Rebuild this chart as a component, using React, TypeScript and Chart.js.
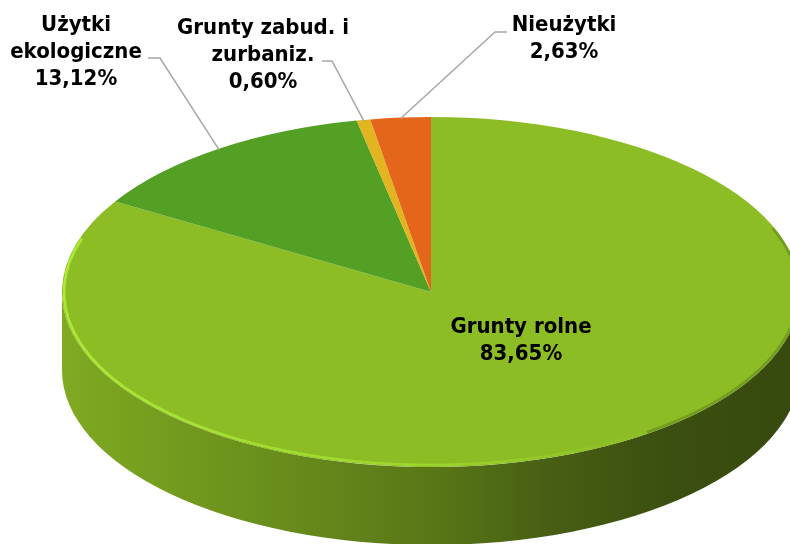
import React, { useEffect, useRef } from "react";
import { Chart, registerables } from "chart.js";

Chart.register(...registerables);

// ---- data ----
const categories = ["Grunty rolne", "Użytki ekologiczne", "Grunty zabud. i zurbaniz.", "Nieużytki"];
const values = [83.65, 13.12, 0.6, 2.63];
const labelLines = [["Grunty rolne"], ["Użytki", "ekologiczne"], ["Grunty zabud. i", "zurbaniz."], ["Nieużytki"]];

// ---- style / layout ----
const colors = ["#8dbd25", "#53a025", "#e2b41f", "#e3661b"];
const CX = 431;
const CY = 292;
const RX = 369;
const RY = 175;
const DEPTH = 78;
const FONT = "bold 22px 'DejaVu Sans Condensed', 'DejaVu Sans', sans-serif";
const LINE_H = 27;
// label boxes: centre x, first line centre y, leader start / elbow (null = inside)
const labelPos = [
  { x: 521, y: 327, lead: null as null | number[][] },
  { x: 76, y: 25, lead: [[148, 58], [160, 58]] },
  { x: 263, y: 28, lead: [[322, 61], [332, 61]] },
  { x: 564, y: 25, lead: [[507, 32], [495, 32]] },
];

function shade(hex: string, f: number) {
  const n = parseInt(hex.slice(1), 16);
  const r = Math.round(((n >> 16) & 255) * f);
  const g = Math.round(((n >> 8) & 255) * f);
  const b = Math.round((n & 255) * f);
  return `rgb(${r},${g},${b})`;
}

function fmt(v: number) {
  return v.toFixed(2).replace(".", ",") + "%";
}

const pie3d = {
  id: "pie3d",
  beforeDatasetsDraw(chart: any) {
    const ctx: CanvasRenderingContext2D = chart.ctx;
    const meta = chart.getDatasetMeta(0);
    // side walls (front half only)
    meta.data.forEach((arc: any, i: number) => {
      const { startAngle, endAngle } = arc.getProps(["startAngle", "endAngle"], true);
      for (let k = -1; k <= 1; k++) {
        const base = 2 * Math.PI * k;
        const lo = Math.max(startAngle, base);
        const hi = Math.min(endAngle, base + Math.PI);
        if (hi > lo) {
          ctx.save();
          ctx.beginPath();
          ctx.ellipse(CX, CY, RX, RY, 0, lo - base, hi - base);
          ctx.ellipse(CX, CY + DEPTH, RX, RY, 0, hi - base, lo - base, true);
          ctx.closePath();
          const g = ctx.createLinearGradient(CX - RX, 0, CX + RX, 0);
          const c = colors[i];
          g.addColorStop(0, shade(c, 0.9));
          g.addColorStop(0.32, shade(c, 0.73));
          g.addColorStop(0.5, shade(c, 0.63));
          g.addColorStop(0.66, shade(c, 0.5));
          g.addColorStop(0.82, shade(c, 0.42));
          g.addColorStop(1, shade(c, 0.39));
          ctx.fillStyle = g;
          ctx.fill();
          ctx.restore();
        }
      }
    });
    const a0 = meta.data[0];
    ctx.save();
    ctx.translate(CX, CY);
    ctx.scale(RX / a0.outerRadius, RY / a0.outerRadius);
    ctx.translate(-a0.x, -a0.y);
  },
  afterDatasetsDraw(chart: any) {
    const ctx: CanvasRenderingContext2D = chart.ctx;
    ctx.restore();
    const meta = chart.getDatasetMeta(0);

    // rim highlight on the front edge
    ctx.save();
    const hg = ctx.createLinearGradient(CX - RX, 0, CX + RX * 0.6, 0);
    hg.addColorStop(0, "rgba(172,235,52,1)");
    hg.addColorStop(0.6, "rgba(165,225,48,0.7)");
    hg.addColorStop(1, "rgba(160,220,45,0)");
    ctx.strokeStyle = hg;
    ctx.lineWidth = 2.5;
    ctx.beginPath();
    ctx.ellipse(CX, CY, RX - 2, RY - 2, 0, 0.25 * Math.PI, 1.1 * Math.PI);
    ctx.stroke();
    // soft dark bevel on the right edge
    ctx.strokeStyle = "rgba(45,65,10,0.25)";
    ctx.lineWidth = 3;
    ctx.beginPath();
    ctx.ellipse(CX, CY, RX - 1.5, RY - 1.5, 0, -0.12 * Math.PI, 0.3 * Math.PI);
    ctx.stroke();
    ctx.restore();

    // labels
    ctx.save();
    ctx.font = FONT;
    ctx.textAlign = "center";
    ctx.textBaseline = "middle";
    meta.data.forEach((arc: any, i: number) => {
      const { startAngle, endAngle } = arc.getProps(["startAngle", "endAngle"], true);
      const mid = (startAngle + endAngle) / 2;
      const p = labelPos[i];
      if (p.lead) {
        const ax = CX + RX * 0.995 * Math.cos(mid);
        const ay = CY + RY * 0.995 * Math.sin(mid);
        ctx.strokeStyle = "#a6a6a6";
        ctx.lineWidth = 1.5;
        ctx.beginPath();
        ctx.moveTo(p.lead[0][0], p.lead[0][1]);
        ctx.lineTo(p.lead[1][0], p.lead[1][1]);
        ctx.lineTo(ax, ay);
        ctx.stroke();
      }
      const lines = [...labelLines[i], fmt(values[i])];
      ctx.fillStyle = "#000000";
      lines.forEach((t, j) => ctx.fillText(t, p.x, p.y + j * LINE_H));
    });
    ctx.restore();
  },
};

export default function App() {
  const ref = useRef<HTMLCanvasElement | null>(null);
  useEffect(() => {
    if (!ref.current) return;
    const chart = new Chart(ref.current, {
      type: "pie",
      data: {
        labels: categories,
        datasets: [
          {
            data: values,
            backgroundColor: colors,
            borderWidth: 0,
            clip: false as any,
          },
        ],
      },
      options: {
        responsive: false,
        animation: false,
        rotation: 0,
        layout: { padding: { top: 117, bottom: 77, left: 256, right: 184 } },
        plugins: {
          legend: { display: false },
          tooltip: { enabled: false },
        },
        events: [],
      },
      plugins: [pie3d],
    });
    return () => chart.destroy();
  }, []);
  return (
    <div style={{ position: "absolute", left: 0, top: 0, width: 790, height: 544, overflow: "hidden", background: "#ffffff" }}>
      <canvas ref={ref} width={790} height={544} style={{ display: "block" }} />
    </div>
  );
}
